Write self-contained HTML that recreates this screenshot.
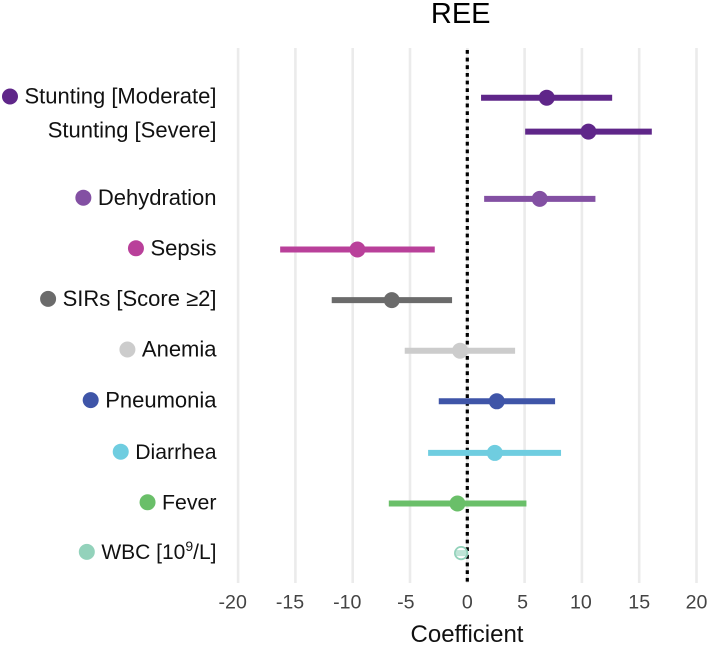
<!DOCTYPE html>
<html lang="en">
<head>
<meta charset="utf-8">
<title>REE Coefficient Plot</title>
<style>
  html, body { margin: 0; padding: 0; background: #fff; }
  svg { display: block; font-family: "Liberation Sans", Arial, sans-serif; }
</style>
</head>
<body>
<svg id="chart" width="708" height="645" viewBox="0 0 708 645" xmlns="http://www.w3.org/2000/svg">
  <rect width="708" height="645" fill="#ffffff"/>
  <text x="460.7" y="23" font-size="29" text-anchor="middle" fill="#000">REE</text>
  <text x="467" y="642" font-size="24" text-anchor="middle" fill="#111">Coefficient</text>
</svg>
<script>
const categories = ['Stunting [Moderate]', 'Stunting [Severe]', 'Dehydration', 'Sepsis', 'SIRs [Score ≥2]', 'Anemia', 'Pneumonia', 'Diarrhea', 'Fever', 'WBC [10^9/L]'];
const rowIndex = [0, 0.67, 2, 3, 4, 5, 6, 7.02, 8.02, 9];
const estimates = [6.93, 10.57, 6.32, -9.59, -6.59, -0.63, 2.57, 2.4, -0.86, -0.54];
const lowerCI = [1.2, 5.05, 1.47, -16.33, -11.83, -5.46, -2.49, -3.42, -6.85, -1.0];
const upperCI = [12.64, 16.1, 11.18, -2.84, -1.33, 4.17, 7.66, 8.18, 5.16, -0.05];
const colors = ['#5f2689', '#5f2689', '#8350a3', '#b9409a', '#6b6b6b', '#cccccc', '#3f55a8', '#6fcde0', '#6abf69', '#93d2bb'];
const showDot = [true, false, true, true, true, true, true, true, true, true];
const xTicks = [-20, -15, -10, -5, 0, 5, 10, 15, 20];

const svg = document.getElementById('chart');
const NS = 'http://www.w3.org/2000/svg';
const xScale = v => 467.3 + v * 11.46;
const yScale = r => 97.7 + r * 50.6;
const tickLabelShift = v => (v <= -10 ? -5.4 : v < 0 ? -4.2 : v === 5 ? -2 : v === 10 ? -1 : 0);
const labelFontSize = name => (name === 'Diarrhea' ? 21.2 : name === 'Fever' ? 21.3 : name.indexOf('WBC') === 0 ? 21 : 22);

function make(tag, attrs, parent) {
  const el = document.createElementNS(NS, tag);
  for (const k in attrs) el.setAttribute(k, attrs[k]);
  (parent || svg).appendChild(el);
  return el;
}

// gridlines and tick labels
xTicks.forEach(t => {
  const grid = make('line', { x1: xScale(t), x2: xScale(t), y1: 48, y2: 583, stroke: '#ebebeb', 'stroke-width': 2.6 });
  
  
  const label = make('text', { x: xScale(t) + tickLabelShift(t), y: 608.5, 'font-size': 19.6, 'text-anchor': 'middle', fill: '#444444' });
  
  
  label.textContent = String(t);
});

// zero reference line
const zero = make('line', { x1: xScale(0), x2: xScale(0), y1: 50, y2: 583, stroke: '#000', 'stroke-width': 3.2, 'stroke-dasharray': '3.8 3.85' });



// series
categories.forEach((name, i) => {
  const y = yScale(rowIndex[i]);
  const color = colors[i];

  const ci = make('line', { x1: xScale(lowerCI[i]), x2: xScale(upperCI[i]), y1: y, y2: y, stroke: color, 'stroke-width': 6 });
  
  

  const isSmallEffect = (upperCI[i] - lowerCI[i]) < 2;
  const pt = make('circle', {
    cx: xScale(estimates[i]), cy: y,
    r: isSmallEffect ? 6.2 : 8,
    fill: isSmallEffect ? 'rgba(255,255,255,0.4)' : color,
    stroke: isSmallEffect ? color : 'none',
    'stroke-width': isSmallEffect ? 1.8 : 0
  });
  
  

  const label = make('text', { x: 216.5, y: y + 6, 'font-size': labelFontSize(name), 'text-anchor': 'end', fill: '#111111' });
  
  
  const sup = name.split('^');
  if (sup.length === 2) {
    const head = sup[1].charAt(0);
    label.appendChild(document.createTextNode(sup[0]));
    const s = make('tspan', { dy: -8, 'font-size': 14 }, label);
    s.textContent = head;
    const rest = make('tspan', { dy: 8 }, label);
    rest.textContent = sup[1].slice(1);
  } else {
    label.textContent = name;
  }

  if (showDot[i]) {
    const w = label.getComputedTextLength();
    const dot = make('circle', { cx: 216.5 - w - 14.5, cy: y - 1.2, r: 8, fill: color });
    
    
  }
});
</script>
</body>
</html>
